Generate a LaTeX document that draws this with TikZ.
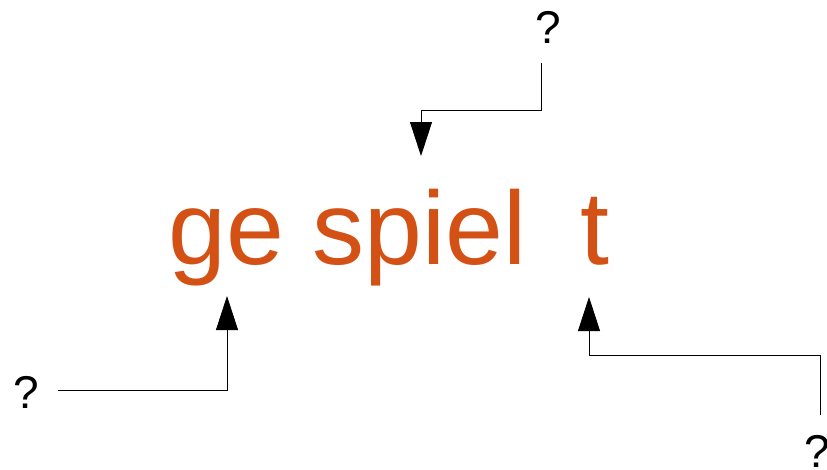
\documentclass[tikz,border=0pt]{standalone}
\usepackage{fontspec}
\setmainfont{Liberation Sans}
\usepackage{tikz}
\usetikzlibrary{positioning,arrows.meta}
\definecolor{wordorange}{RGB}{212,81,21}

\begin{document}
\begin{tikzpicture}[x=1pt,y=-1pt,
    word/.style={text=wordorange,font=\fontsize{104}{104}\selectfont,inner sep=0pt,anchor=base west},
    qmark/.style={font=\fontsize{46}{46}\selectfont,inner sep=0pt},
    link/.style={line width=0.8pt,-{Triangle[length=34pt,width=22pt]}}]
    \useasboundingbox (0,0) rectangle (827,469);
    \node[word] (gespielt) at (168,264) {ge spiel\hspace{0.24em} t};
    \node[qmark] (qtop) at (548,27) {?};
    \node[qmark] (qleft) at (26,392) {?};
    \node[qmark] (qright) at (817,451) {?};
    % arrow ends
    \coordinate (stem) at (421,156);
    \coordinate (prefix) at (227,296);
    \coordinate (suffix) at (589,297);
    \draw[link] (541,63) -- (541,110) -| (stem);
    \draw[link] (58,390) -| (prefix);
    \draw[link] (820,415) |- (589,355) -- (suffix);
\end{tikzpicture}
\end{document}
